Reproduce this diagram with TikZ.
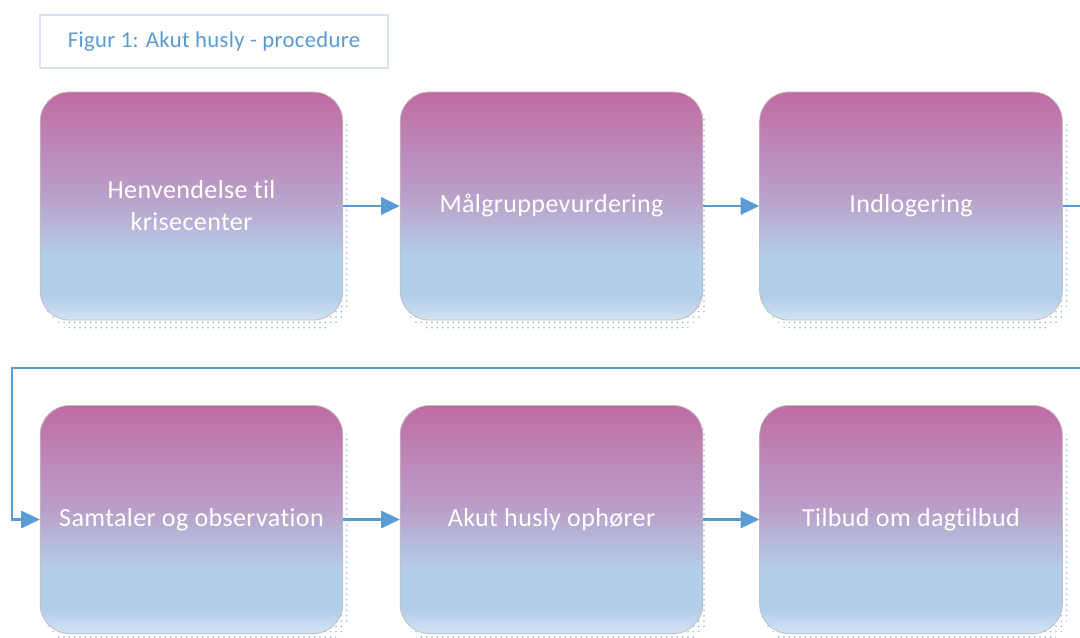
\documentclass[tikz,border=0pt]{standalone}
\usepackage{fontspec}
\setmainfont{Carlito}[Ligatures=NoCommon,LetterSpace=1.5]
\usetikzlibrary{arrows.meta,patterns,backgrounds}

\definecolor{linkblue}{HTML}{5B9BD5}
\definecolor{framegray}{HTML}{BFBFBF}
\definecolor{titleframe}{HTML}{DAE3F3}
\definecolor{dotblue}{HTML}{8DB6E2}
\definecolor{fadeTop}{HTML}{C06CA3}
\definecolor{fadeMid}{HTML}{BAA0C9}
\definecolor{fadeBlue}{HTML}{B3CEE9}
\definecolor{fadeBot}{HTML}{D3E4F4}

\pgfdeclareverticalshading{stepfade}{100bp}{color(0bp)=(fadeBot); color(25bp)=(fadeBot);
  color(30bp)=(fadeBlue); color(39bp)=(fadeBlue); color(52bp)=(fadeMid); color(75bp)=(fadeTop);
  color(100bp)=(fadeTop)}
\pgfdeclarepatternformonly{sparsedots}{\pgfqpoint{-1pt}{-1pt}}{\pgfqpoint{1pt}{1pt}}{\pgfqpoint{4pt}{4pt}}
  {\pgfpathcircle{\pgfqpoint{0pt}{0pt}}{0.65pt}\pgfusepath{fill}}

\begin{document}
\begin{tikzpicture}[x=0.75pt,y=-0.75pt,
  stepbox/.style={draw=framegray,line width=0.6pt,shading=stepfade,rounded corners=22pt,
    minimum width=227pt,minimum height=171pt,text=white,align=center,
    font=\fontsize{19.5}{24}\selectfont},
  link/.style={draw=linkblue,line width=1.6pt,-{Triangle[length=14pt,width=13pt]}}]
\useasboundingbox (0,0) rectangle (1080,637);

% title
\node[draw=titleframe,line width=1.2pt,minimum width=261pt,minimum height=40pt,text=linkblue,
  font=\fontsize{17}{20}\selectfont] (title) at (214,41.5) {Figur 1: Akut husly - procedure};

% steps
\node[stepbox] (henv) at (191.5,206) {Henvendelse til\\krisecenter};
\node[stepbox] (maal) at (551.5,206) {Målgruppevurdering};
\node[stepbox] (indl) at (911,206) {Indlogering};
\node[stepbox] (samt) at (191.5,519.5) {Samtaler og observation};
\node[stepbox] (ophr) at (551.5,519.5) {Akut husly ophører};
\node[stepbox] (dagt) at (911,519.5) {Tilbud om dagtilbud};

% dotted shadows
\begin{scope}[on background layer]
\foreach \n in {henv,maal,indl,samt,ophr,dagt}
  \fill[pattern=sparsedots,pattern color=dotblue,rounded corners=22pt]
    ([shift={(5,9)}]\n.north west) rectangle ([shift={(5,9)}]\n.south east);
\end{scope}

% connectors
\coordinate (turnA) at (1086,206);
\coordinate (turnB) at (1086,368);
\coordinate (turnC) at (12,368);
\coordinate (turnD) at (12,519.5);
\draw[link] (henv) -- (maal);
\draw[link] (maal) -- (indl);
\draw[link] (indl.east) -- (turnA) -- (turnB) -- (turnC) -- (turnD) -- (samt.west);
\draw[link] (samt) -- (ophr);
\draw[link] (ophr) -- (dagt);
\end{tikzpicture}
\end{document}
